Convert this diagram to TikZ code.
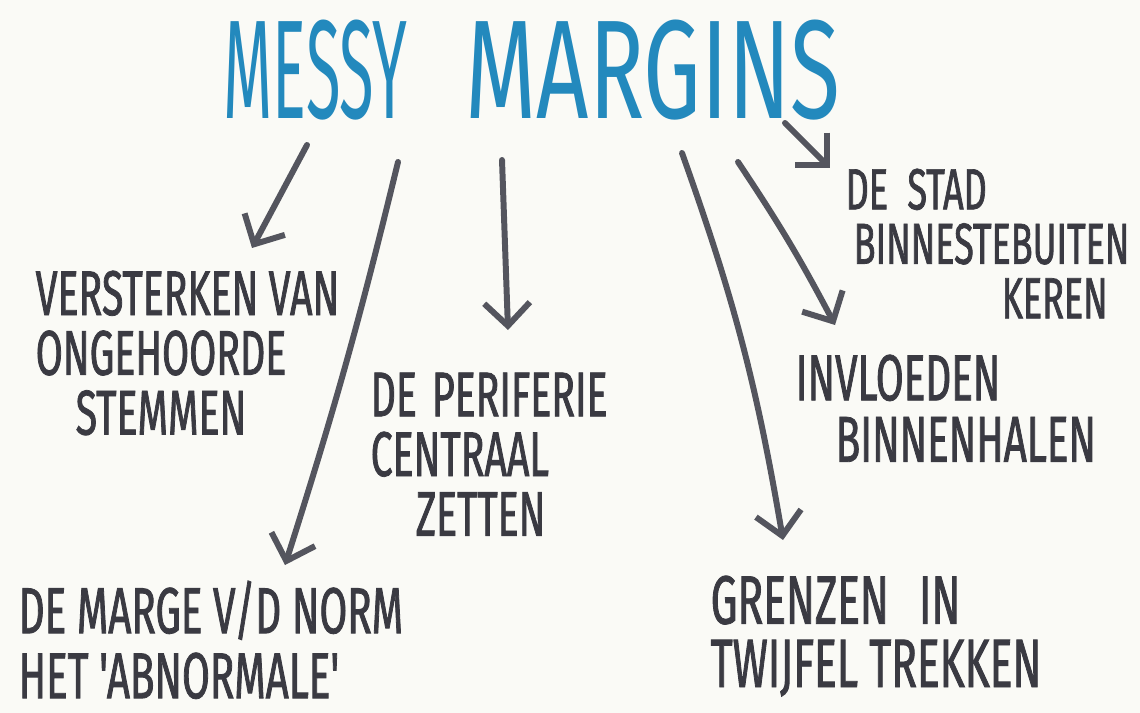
\documentclass[tikz,border=0pt]{standalone}
\usepackage{fontspec}
\setmainfont{Fira Sans}
\newfontfamily\handfont{Fira Sans}[FakeStretch=0.62,FakeBold=1.2]
\newfontfamily\titlefont{Fira Sans}[FakeStretch=0.45]
\usetikzlibrary{arrows.meta}
\definecolor{paper}{RGB}{250,250,246}
\definecolor{ink}{RGB}{58,58,66}
\definecolor{arrgray}{RGB}{84,85,94}
\definecolor{marker}{RGB}{35,137,189}
\newdimen\pxu \pxu=0.1mm

\begin{document}
\begin{tikzpicture}[x=0.1mm,y=-0.1mm,
  txt/.style={text=ink,font=\handfont\fontsize{18}{17}\selectfont,align=left,anchor=north west,inner sep=0pt},
  arr/.style={draw=arrgray,line width=1.7pt,line cap=round,-{Straight Barb[length=6.5pt,width=13pt,line width=1.7pt]}}]
\fill[paper] (0,0) rectangle (1140,713);
\useasboundingbox (0,0) rectangle (1140,713);

% title
\node[text=marker,font=\titlefont\fontsize{40}{40}\selectfont,inner sep=0pt] (title) at (532,70) {MESSY\hspace{58\pxu}{\addfontfeature{FakeStretch=0.65}MARGINS}};

% branches
\node[txt] (verst) at (35,270) {VERSTERKEN VAN\\ONGEHOORDE\\\hspace*{40\pxu}STEMMEN};
\node[txt] (perif) at (370,372) {DE\hspace{15\pxu}PERIFERIE\\CENTRAAL\\\hspace*{45\pxu}ZETTEN};
\node[txt,font=\handfont\fontsize{18.5}{18.5}\selectfont] (marge) at (18,580) {DE MARGE V/D NORM\\HET 'ABNORMALE'};
\node[txt,font=\handfont\fontsize{16.5}{15.5}\selectfont,text width=262\pxu] (stad) at (845,168) {DE STAD\\\hspace*{8\pxu}\mbox{BINNESTEBUITEN}\\\hspace*{\fill}KEREN};
\node[txt,font=\handfont\fontsize{18.5}{17.5}\selectfont] (invl) at (795,354) {INVLOEDEN\\\hspace*{40\pxu}BINNENHALEN};
\node[txt,font=\handfont\fontsize{19.5}{18}\selectfont] (grenz) at (710,575) {GRENZEN\hspace{30\pxu}IN\\TWIJFEL TREKKEN};

\coordinate (a1) at (307,145); \coordinate (b1) at (252,248);
\coordinate (a2) at (398,162); \coordinate (b2) at (285,565);
\coordinate (a3) at (502,160); \coordinate (b3) at (508,330);
\coordinate (a4) at (682,153); \coordinate (b4) at (783,540);
\coordinate (a5) at (738,162); \coordinate (b5) at (835,325);
\coordinate (a6) at (785,123); \coordinate (b6) at (830,168);

\draw[arr] (a1) -- (b1);
\draw[arr] (a2) to[bend left=2] (b2);
\draw[arr] (a3) -- (b3);
\draw[arr] (a4) to[bend left=5] (b4);
\draw[arr] (a5) to[bend left=3] (b5);
\draw[arr] (a6) -- (b6);
\end{tikzpicture}
\end{document}
